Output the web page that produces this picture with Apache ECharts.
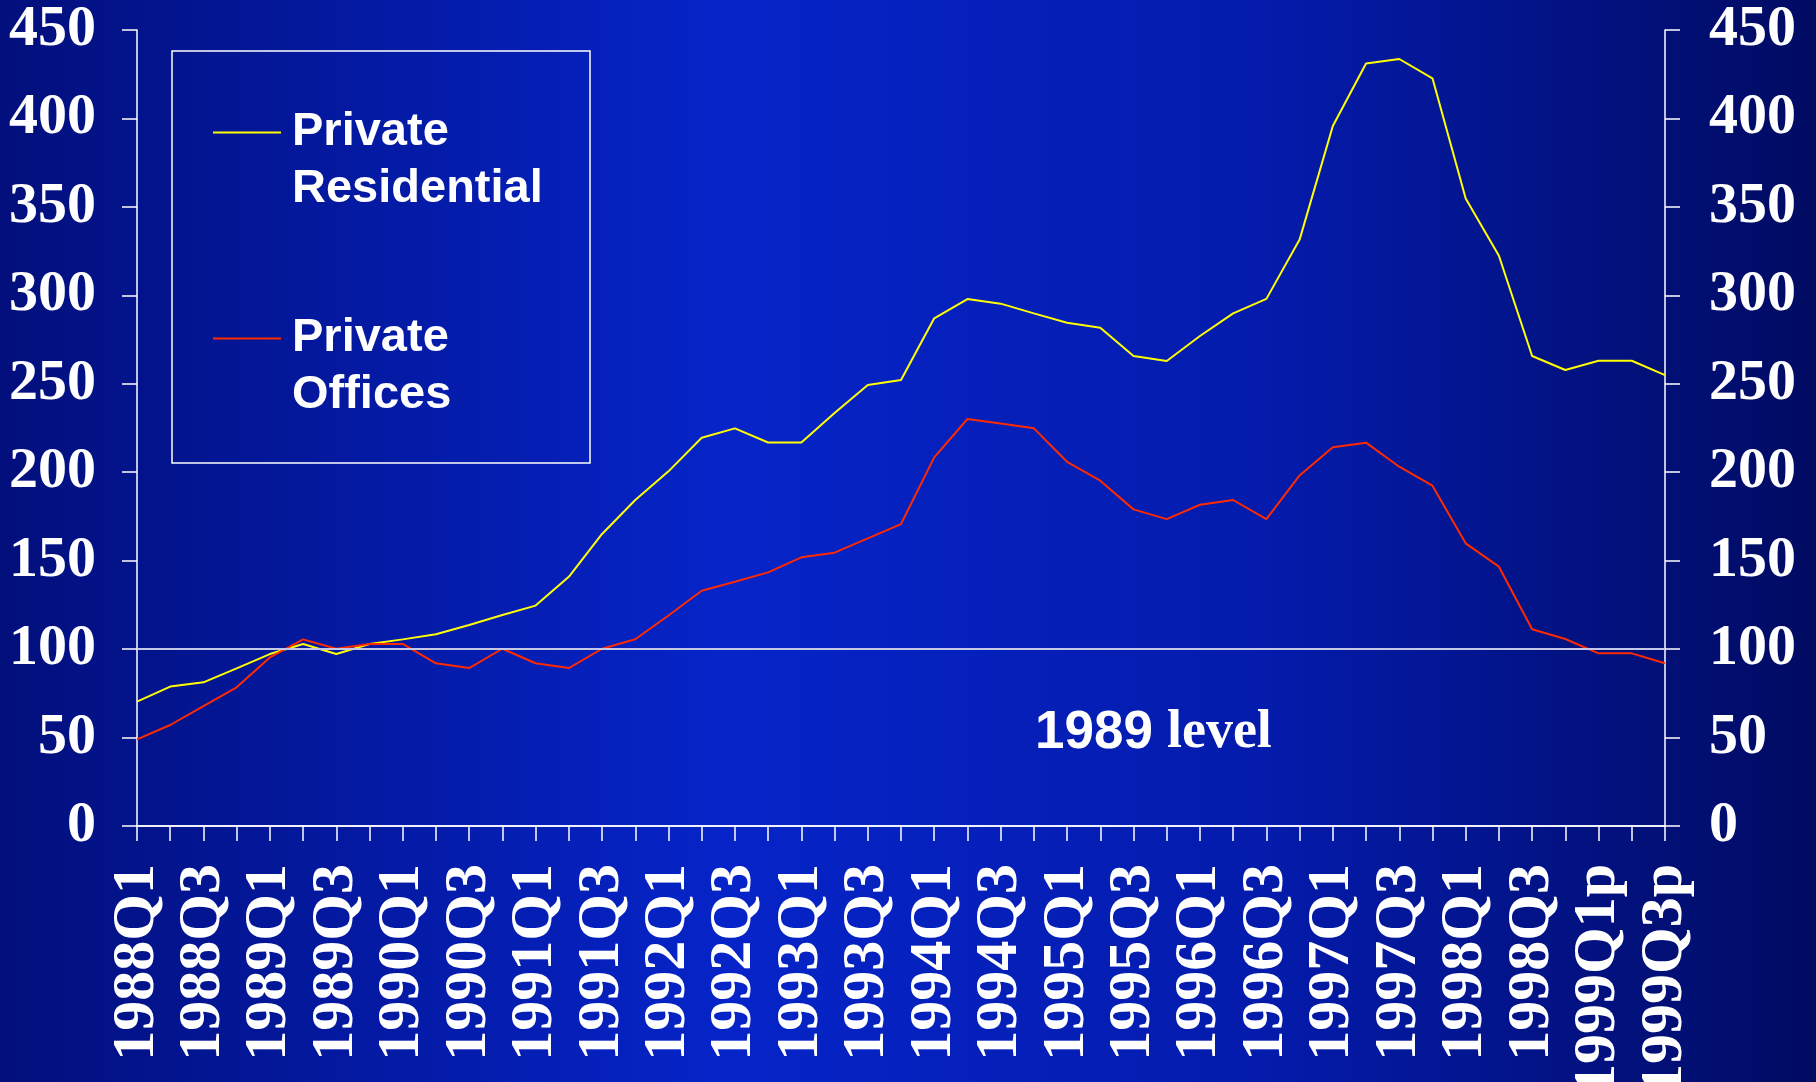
<!DOCTYPE html>
<html>
<head>
<meta charset="utf-8">
<script src="https://cdn.jsdelivr.net/npm/echarts@6/dist/echarts.min.js"></script>
<style>
  html, body { margin: 0; padding: 0; }
  #chart { width: 1816px; height: 1082px; }
</style>
</head>
<body>
<div id="chart"></div>
<script>
// quarters 1988Q1 .. 1999Q3p
const quarters = [
  '1988Q1', '1988Q2', '1988Q3', '1988Q4',
  '1989Q1', '1989Q2', '1989Q3', '1989Q4',
  '1990Q1', '1990Q2', '1990Q3', '1990Q4',
  '1991Q1', '1991Q2', '1991Q3', '1991Q4',
  '1992Q1', '1992Q2', '1992Q3', '1992Q4',
  '1993Q1', '1993Q2', '1993Q3', '1993Q4',
  '1994Q1', '1994Q2', '1994Q3', '1994Q4',
  '1995Q1', '1995Q2', '1995Q3', '1995Q4',
  '1996Q1', '1996Q2', '1996Q3', '1996Q4',
  '1997Q1', '1997Q2', '1997Q3', '1997Q4',
  '1998Q1', '1998Q2', '1998Q3', '1998Q4',
  '1999Q1p', '1999Q2p', '1999Q3p'
]
const residential = [
  70.3, 78.8, 81.2, 89.1, 97.2, 102.9, 97.2, 102.9,
  105.5, 108.4, 113.6, 119.3, 124.6, 140.9, 165.1, 184.3,
  200.5, 219.5, 224.8, 216.8, 216.8, 233.5, 249.3, 252.1,
  287.0, 297.9, 295.3, 289.8, 284.5, 281.7, 265.7, 262.9,
  277.0, 289.8, 298.0, 331.5, 395.7, 431.1, 433.6, 422.7,
  354.8, 322.4, 265.7, 257.8, 263.0, 263.0, 254.9
]
const offices = [
  49.0, 57.1, 67.8, 78.4, 95.3, 105.5, 100.2, 102.9,
  102.9, 92.0, 89.3, 100.2, 92.0, 89.3, 100.2, 105.6,
  119.0, 133.0, 138.1, 143.4, 151.9, 154.5, 162.6, 170.7,
  208.4, 230.1, 227.6, 224.8, 205.9, 195.2, 179.0, 173.5,
  181.6, 184.3, 173.5, 198.2, 214.1, 216.7, 203.1, 192.4,
  159.8, 146.6, 111.2, 105.7, 97.6, 97.6, 92.0
]
const yTicks = { min: 0, max: 450, interval: 50 }
const baseLevel = 100

const serif = 'Liberation Serif'
const sans = 'Liberation Sans'

const myChart = echarts.init(document.getElementById('chart'))

const yAxisCommon = {
  type: 'value',
  min: yTicks.min,
  max: yTicks.max,
  interval: yTicks.interval,
  splitLine: { show: false },
  axisLine: { show: true, lineStyle: { color: '#ffffff', width: 1.5 } },
  axisTick: { show: true, length: 15, lineStyle: { color: '#ffffff', width: 1.5 } },
}

myChart.setOption({
  backgroundColor: {
    type: 'linear', x: 0, y: 0, x2: 1, y2: 0,
    colorStops: [
      { offset: 0, color: '#020f7c' },
      { offset: 0.4, color: '#0624c8' },
      { offset: 0.7, color: '#041bab' },
      { offset: 1, color: '#010b62' },
    ],
  },
  animation: false,
  grid: { left: 137, right: 151, top: 30, bottom: 256, containLabel: false, outerBoundsMode: 'none' },
  legend: {
    orient: 'vertical',
    left: 213,
    top: 47,
    padding: 0,
    itemGap: 35,
    itemWidth: 68,
    itemHeight: 2,
    icon: 'rect',
    // blank first line so the icon sits level with the first text line
    formatter: (name) => ' \n' + name,
    data: ['Private\nResidential', 'Private\nOffices'],
    textStyle: {
      color: '#ffffff',
      fontFamily: sans,
      fontWeight: 'bold',
      fontSize: 47,
      lineHeight: 57,
      padding: [0, 0, 0, 6],
    },
  },
  graphic: [
    {
      type: 'rect',
      shape: { x: 172, y: 51, width: 418, height: 412 },
      style: { fill: 'none', stroke: '#ffffff', lineWidth: 1.5 },
      silent: true,
    },
    {
      type: 'text',
      x: 1035,
      y: 706,
      silent: true,
      style: {
        text: '{a|1989}{b|level}',
        fill: '#ffffff',
        rich: {
          a: { fontFamily: sans, fontWeight: 'bold', fontSize: 53, fill: '#ffffff', padding: [0, 14, 0, 0] },
          b: { fontFamily: serif, fontWeight: 'bold', fontSize: 54, fill: '#ffffff' },
        },
      },
    },
  ],
  xAxis: [
    {
      type: 'category',
      boundaryGap: false,
      data: quarters,
      axisLine: { lineStyle: { color: '#ffffff', width: 1.5 } },
      axisTick: { interval: 0, length: 15, alignWithLabel: true, lineStyle: { color: '#ffffff', width: 1.5 } },
      axisLabel: {
        interval: 1,
        rotate: 90,
        margin: 38,
        color: '#ffffff',
        fontFamily: serif,
        fontWeight: 'bold',
        fontSize: 60,
        padding: [0, 0, 12, 0],
      },
    },
    {
      type: 'category',
      position: 'top',
      boundaryGap: false,
      data: quarters,
      axisLine: { lineStyle: { color: '#ffffff', width: 1.5 } },
      axisTick: { show: false },
      axisLabel: { show: false },
    },
  ],
  yAxis: [
    Object.assign({}, yAxisCommon, {
      position: 'left',
      axisLabel: { margin: 41, color: '#ffffff', fontFamily: serif, fontWeight: 'bold', fontSize: 58 },
    }),
    Object.assign({}, yAxisCommon, {
      position: 'right',
      axisLabel: { margin: 44, color: '#ffffff', fontFamily: serif, fontWeight: 'bold', fontSize: 58 },
    }),
  ],
  series: [
    {
      name: 'Private\nResidential',
      type: 'line',
      data: residential,
      symbol: 'none',
      lineStyle: { color: '#ffff00', width: 2 },
      itemStyle: { color: '#ffff00' },
      markLine: {
        silent: true,
        symbol: 'none',
        label: { show: false },
        lineStyle: { color: '#c4c8e6', width: 2, type: 'solid' },
        data: [{ yAxis: baseLevel }],
      },
    },
    {
      name: 'Private\nOffices',
      type: 'line',
      data: offices,
      symbol: 'none',
      lineStyle: { color: '#ff2a00', width: 2 },
      itemStyle: { color: '#ff2a00' },
    },
  ],
})
</script>
</body>
</html>
